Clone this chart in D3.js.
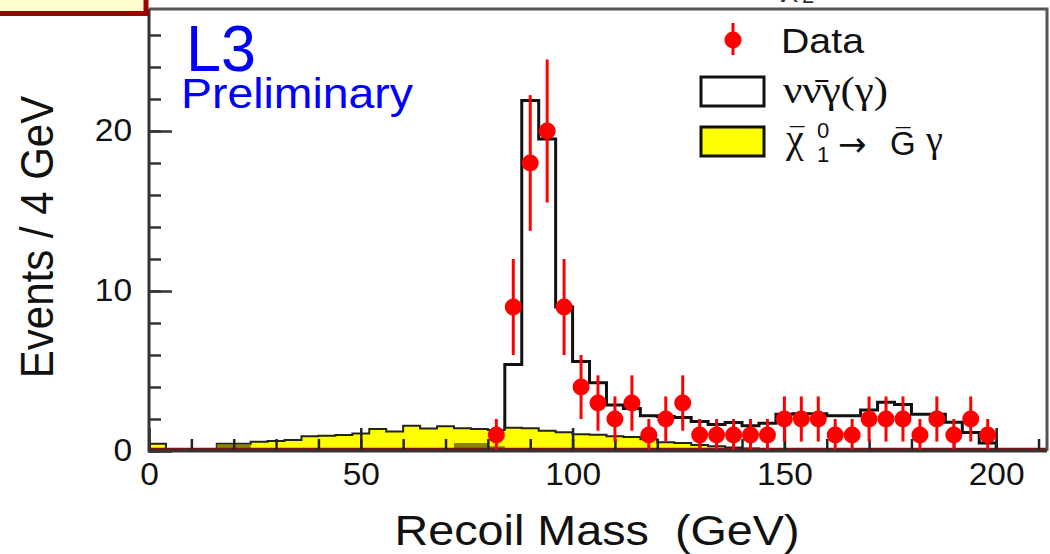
<!DOCTYPE html>
<html>
<head>
<meta charset="utf-8">
<script src="https://cdn.jsdelivr.net/npm/d3@7"></script>
<style>
  html, body { margin: 0; padding: 0; background: #fff; }
  svg { display: block; }
</style>
</head>
<body>
<svg id="chart" width="1050" height="554"></svg>
<script>
// Recoil mass spectrum, 4 GeV bins
const binWidth = 4;
const binStarts = d3.range(0, 212, 4);

// Data: bin centres, counts and their errors
const dataMass = [82, 86, 90, 94, 98, 102, 106, 110, 114, 118, 122, 126, 130, 134, 138,
                  142, 146, 150, 154, 158, 162, 166, 170, 174, 178, 182, 186, 190, 194, 198];
const dataCounts = [1, 9, 18, 20, 9, 4, 3, 2, 3, 1, 2, 3, 1, 1, 1,
                    1, 1, 2, 2, 2, 1, 1, 2, 2, 2, 1, 2, 1, 2, 1];
const dataErrors = [1, 3, 4.24, 4.47, 3, 2, 1.73, 1.41, 1.73, 1, 1.41, 1.73, 1, 1, 1,
                    1, 1, 1.41, 1.41, 1.41, 1, 1, 1.41, 1.41, 1.41, 1, 1.41, 1, 1.41, 1];

// nu nubar gamma(gamma) expectation, one value per bin starting at binStarts
const nunuGamma = [0, 0, 0, 0, 0, 0, 0, 0, 0, 0, 0, 0, 0, 0, 0, 0, 0, 0, 0, 0, 0,
                   5.4, 21.9, 19.5, 9.0, 5.6, 4.27, 2.87, 2.65, 2.2, 2.15, 2.1, 1.85,
                   1.65, 1.78, 1.58, 1.73, 2.3, 2.33, 2.33, 2.2, 2.2, 2.56, 3.05, 2.9,
                   2.3, 2.3, 1.8, 1.15, 0.5, 0, 0, 0];

// neutralino -> gravitino gamma signal
const chi1Signal = [0.45, 0, 0, 0, 0.45, 0.45, 0.58, 0.62, 0.68, 0.92, 0.96, 1.0, 1.1,
                    1.37, 1.22, 1.58, 1.4, 1.55, 1.42, 1.38, 1.32, 1.45, 1.42, 1.27, 1.17,
                    1.05, 1.02, 0.92, 0.88, 0.73, 0.55, 0.5, 0.38, 0.3, 0.22, 0.15, 0.1,
                    0.05, 0, 0, 0, 0, 0, 0, 0, 0, 0, 0, 0, 0, 0, 0, 0];

// second neutralino signal (small)
const chi2Signal = [0, 0, 0, 0, 0.4, 0.4, 0, 0, 0, 0, 0, 0, 0, 0, 0, 0, 0, 0, 0.5, 0.5,
                    0.3, 0, 0, 0, 0, 0, 0, 0, 0, 0, 0, 0, 0, 0, 0, 0, 0, 0, 0, 0, 0, 0,
                    0, 0, 0, 0, 0, 0, 0, 0, 0, 0, 0];

const xMajorTicks = [0, 50, 100, 150, 200];
const xMinorTicks = d3.range(0, 211, 10);
const yMajorTicks = [0, 10, 20];
const yMinorTicks = d3.range(0, 27, 2);

const SANS = "'Liberation Sans', Arial, Helvetica, sans-serif";
const SERIF = "'Liberation Serif', 'DejaVu Serif', serif";

const svg = d3.select('#chart');
svg.append('rect').attr('width', 1050).attr('height', 554).attr('fill', '#fff');

const x = d3.scaleLinear().domain([0, 212]).range([149, 1047]);
const y = d3.scaleLinear().domain([0, 27.625]).range([451, 9]);

function stretch(sel, sx) {
  sel.each(function () {
    const w = this.getComputedTextLength();
    this.setAttribute('textLength', w * sx);
    this.setAttribute('lengthAdjust', 'spacingAndGlyphs');
  });
}

const plot = svg.append('g');
const clip = svg.append('clipPath').attr('id', 'plotclip');
clip.append('rect').attr('x', 149).attr('y', 9).attr('width', 898).attr('height', 442);
plot.attr('clip-path', 'url(#plotclip)');

// step outline through the bin contents
function stepPath(values) {
  const pts = [[x(0), y(0)]];
  values.forEach((v, i) => {
    const x0 = x(binStarts[i]), x1 = x(binStarts[i] + binWidth);
    pts.push([x0, y(v)], [x1, y(v)]);
  });
  pts.push([x(binStarts[binStarts.length - 1] + binWidth), y(0)]);
  return d3.line()(pts);
}
function areaPath(values) {
  return stepPath(values) + 'Z';
}

// nu nubar gamma(gamma): black outline
plot.append('path')
  .attr('d', stepPath(nunuGamma))
  .attr('fill', 'none').attr('stroke', '#111').attr('stroke-width', 3)
  .attr('stroke-linejoin', 'miter');

// chi1 signal: yellow filled
plot.append('path')
  .attr('d', areaPath(chi1Signal))
  .attr('fill', '#ffff00').attr('stroke', '#222').attr('stroke-width', 2);

// chi2 signal: dark fill, dark red outline
plot.append('path')
  .attr('d', areaPath(chi2Signal))
  .attr('fill', '#8a8500').attr('stroke', 'none');
plot.append('path')
  .attr('d', stepPath(chi2Signal.map(() => 0)))
  .attr('transform', 'translate(0,-2)')
  .attr('fill', 'none').attr('stroke', '#7a1414').attr('stroke-width', 2.5);

// axis ticks (inward)
const gx = svg.append('g').attr('transform', 'translate(0,451)');
gx.call(d3.axisTop(x).tickValues(xMinorTicks).tickSize(12).tickFormat(''));
gx.call(g => g.select('.domain').remove());
const gx2 = svg.append('g').attr('transform', 'translate(0,451)');
gx2.call(d3.axisTop(x).tickValues(xMajorTicks).tickSize(23).tickFormat(''));
gx2.call(g => g.select('.domain').remove());
[gx, gx2].forEach(g => g.selectAll('line').attr('stroke', '#222').attr('stroke-width', 2.5));

const gy = svg.append('g').attr('transform', 'translate(149,0)');
gy.call(d3.axisRight(y).tickValues(yMinorTicks).tickSize(12).tickFormat(''));
gy.call(g => g.select('.domain').remove());
const gy2 = svg.append('g').attr('transform', 'translate(149,0)');
gy2.call(d3.axisRight(y).tickValues(yMajorTicks).tickSize(23).tickFormat(''));
gy2.call(g => g.select('.domain').remove());
[gy, gy2].forEach(g => g.selectAll('line').attr('stroke', '#333').attr('stroke-width', 2.5));

// data points with error bars
const pts = svg.append('g');
pts.selectAll('line.err').data(dataMass).join('line')
  .attr('class', 'err')
  .attr('x1', d => x(d)).attr('x2', d => x(d))
  .attr('y1', (d, i) => y(dataCounts[i] + dataErrors[i]))
  .attr('y2', (d, i) => Math.min(453, y(dataCounts[i] - dataErrors[i])))
  .attr('stroke', '#ff0000').attr('stroke-width', 3);
pts.selectAll('circle').data(dataMass).join('circle')
  .attr('cx', d => x(d)).attr('cy', (d, i) => y(dataCounts[i]))
  .attr('r', 8.5).attr('fill', '#ff0000');

// frame
svg.append('path')
  .attr('d', `M${x(0)},${y(27.625)}H${x(212)}V${y(0)}`)
  .attr('fill', 'none').attr('stroke', '#555').attr('stroke-width', 3);
svg.append('path')
  .attr('d', `M${x(0)},${y(27.625)}V${y(0)}H${x(212)}`)
  .attr('fill', 'none').attr('stroke', '#333').attr('stroke-width', 3);

// tick labels
const xl = svg.append('g').attr('transform', 'translate(0,451)')
  .call(d3.axisBottom(x).tickValues(xMajorTicks).tickSize(0).tickPadding(12));
xl.select('.domain').remove();
xl.selectAll('text').attr('font-family', SANS).attr('font-size', 31).attr('fill', '#111');
stretch(xl.selectAll('text'), 1.08);

const yl = svg.append('g').attr('transform', 'translate(149,0)')
  .call(d3.axisLeft(y).tickValues(yMajorTicks).tickSize(0).tickPadding(17));
yl.select('.domain').remove();
yl.selectAll('text').attr('font-family', SANS).attr('font-size', 31).attr('fill', '#111');
stretch(yl.selectAll('text'), 1.08);

// axis titles
svg.append('text')
  .attr('x', 597).attr('y', 545).attr('text-anchor', 'middle')
  .attr('font-family', SANS).attr('font-size', 42).attr('fill', '#111')
  .attr('xml:space', 'preserve')
  .text('Recoil Mass  (GeV)')
  .attr('textLength', 405).attr('lengthAdjust', 'spacingAndGlyphs');

svg.append('text')
  .attr('transform', 'translate(53,237) scale(1.1,1) rotate(-90)')
  .attr('text-anchor', 'middle')
  .attr('font-family', SANS).attr('font-size', 42).attr('fill', '#111')
  .text('Events / 4 GeV');

// experiment label
svg.append('text').attr('x', 186).attr('y', 71)
  .attr('font-family', SANS).attr('font-size', 64).attr('fill', '#0000ff')
  .text('L3').attr('textLength', 70).attr('lengthAdjust', 'spacingAndGlyphs');
svg.append('text').attr('x', 181).attr('y', 108)
  .attr('font-family', SANS).attr('font-size', 42).attr('fill', '#0000ff')
  .text('Preliminary').attr('textLength', 232).attr('lengthAdjust', 'spacingAndGlyphs');

// legend
const leg = svg.append('g');
leg.append('line').attr('x1', 733).attr('x2', 733).attr('y1', 23).attr('y2', 55)
  .attr('stroke', '#ff0000').attr('stroke-width', 3);
leg.append('circle').attr('cx', 733).attr('cy', 40).attr('r', 8.5).attr('fill', '#ff0000');
leg.append('text').attr('x', 781).attr('y', 53)
  .attr('font-family', SANS).attr('font-size', 35).attr('fill', '#111')
  .text('Data').attr('textLength', 83).attr('lengthAdjust', 'spacingAndGlyphs');

leg.append('rect').attr('x', 701).attr('y', 77).attr('width', 63).attr('height', 29)
  .attr('fill', '#fff').attr('stroke', '#111').attr('stroke-width', 3);
leg.append('text').attr('x', 783).attr('y', 103)
  .attr('font-family', SERIF).attr('font-size', 38).attr('fill', '#111')
  .text('\u03BD\u03BD\u0304\u03B3(\u03B3)').attr('textLength', 105).attr('lengthAdjust', 'spacingAndGlyphs');

leg.append('rect').attr('x', 701).attr('y', 127).attr('width', 63).attr('height', 29)
  .attr('fill', '#ffff00').attr('stroke', '#111').attr('stroke-width', 3);

// chi~0_1 -> G~ gamma, each piece placed on its own
const sig = leg.append('text').attr('fill', '#111');
const pieces = [
  { t: '\u03C7', x: 786, y: 152, f: SERIF, s: 40 },
  { t: '\u00AF', x: 790, y: 146, f: SANS, s: 26 },
  { t: '0', x: 817, y: 138, f: SANS, s: 22 },
  { t: '1', x: 817, y: 162, f: SANS, s: 22 },
  { t: '\u2192', x: 838, y: 156, f: "'DejaVu Sans', sans-serif", s: 34 },
  { t: 'G', x: 890, y: 155, f: SANS, s: 33 },
  { t: '\u00AF', x: 896, y: 147, f: SANS, s: 26 },
  { t: '\u03B3', x: 926, y: 152, f: SERIF, s: 38 }
];
pieces.forEach(p => {
  sig.append('tspan').attr('x', p.x).attr('y', p.y)
    .attr('font-family', p.f).attr('font-size', p.s).text(p.t);
});

// entry above the visible area
const top2 = leg.append('text').attr('fill', '#333');
top2.append('tspan').attr('x', 781).attr('y', -6)
  .attr('font-family', SERIF).attr('font-size', 38).text('\u03C7');
top2.append('tspan').attr('x', 802).attr('y', 3)
  .attr('font-family', SANS).attr('font-size', 22).text('2');

// corner box
svg.append('rect').attr('x', -5).attr('y', -5).attr('width', 151).attr('height', 18.5)
  .attr('fill', '#fffdd0').attr('stroke', '#a00000').attr('stroke-width', 5);
</script>
</body>
</html>
